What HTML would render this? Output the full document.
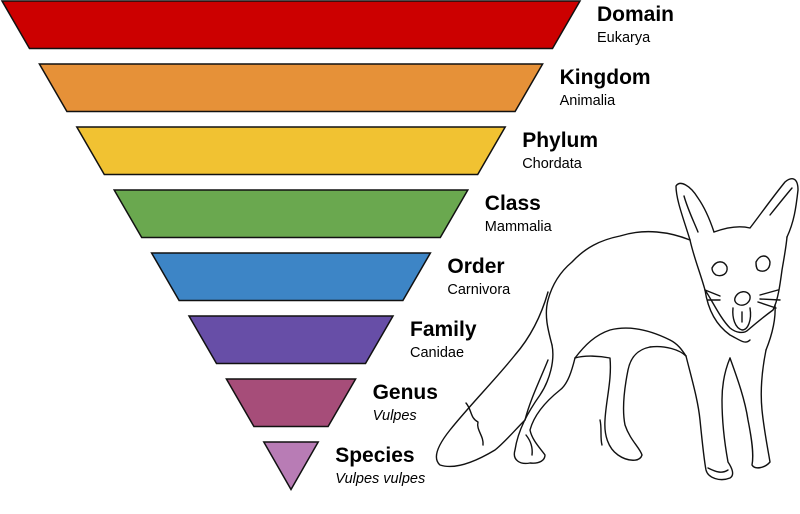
<!DOCTYPE html>
<html><head><meta charset="utf-8"><style>
html,body{margin:0;padding:0;background:#fff;}
svg{display:block;}
text{font-family:"Liberation Sans",Arial,sans-serif;fill:#000;}
.t{font-weight:bold;font-size:21px;}
.s{font-size:14.5px;}
.i{font-size:14.5px;font-style:italic;}
.fox path{fill:none;stroke:#111;stroke-width:1.4;stroke-linecap:round;stroke-linejoin:round;}
</style></head><body>
<svg id="c" width="800" height="514" viewBox="0 0 800 514">
<g id="bands"></g>
<g id="labels"></g>
<g class="fox">
<path d="M690,240 C670,232 645,228 620,236 C600,240 585,248 572,262 C560,272 552,285 548,300 C544,315 548,330 552,345"/>
<path d="M548,292 C540,320 528,340 515,355 C495,380 470,405 450,430 C438,445 432,458 440,465 C455,470 475,462 495,450 C505,442 515,430 525,420"/>
<path d="M466,403 C472,410 470,418 478,422 C476,430 484,436 483,445"/>
<path d="M525,420 C530,400 540,380 548,360"/>
<path d="M552,345 C555,360 550,380 540,395 C528,412 518,430 515,450 C512,460 520,465 530,463 C540,464 545,460 545,455 C540,448 532,440 530,430 C534,415 545,402 560,390 C568,384 572,370 575,358"/>
<path d="M575,358 C585,355 600,356 610,358 C612,380 606,400 605,420 C604,435 608,448 618,455 C628,462 640,462 642,455 C640,448 630,440 625,425 C622,410 624,390 628,370 C630,360 635,350 650,347"/>
<path d="M526,435 C530,440 533,447 532,455"/>
<path d="M600,420 C602,428 600,438 602,445"/>
<path d="M575,358 C585,345 595,335 610,330 C630,325 650,330 670,340 C678,344 682,350 686,356"/>
<path d="M686,356 C692,380 698,400 700,420 C702,440 704,460 706,470 C708,478 720,482 730,478 C735,475 732,468 728,462 C724,440 722,420 722,400 C722,385 725,370 730,358"/>
<path d="M730,358 C738,380 745,400 748,420 C752,440 754,455 752,465 C755,470 765,468 770,462 C768,450 764,430 762,410 C760,390 762,370 766,350"/>
<path d="M708,468 C716,472 722,474 728,470"/>
<path d="M650,347 C665,345 680,350 686,356"/>
<path d="M705,290 C708,310 716,325 730,335 C740,340 745,345 750,340"/>
<path d="M766,350 C772,335 776,320 775,305"/>
<path d="M690,240 C694,258 700,272 705,290"/>
<path d="M705,290 C712,300 720,318 730,328 C736,333 744,334 748,330 C755,324 762,318 773,310 C778,300 780,285 782,270 C784,258 786,248 787,237"/>
<path d="M690,240 C684,220 676,200 676,186 C680,180 690,185 698,198 C705,208 710,220 714,232"/>
<path d="M684,196 C688,210 694,222 698,232"/>
<path d="M714,232 C725,228 738,225 750,228 C760,215 772,198 785,182 C792,176 798,178 798,190 C796,208 794,222 787,237"/>
<path d="M770,215 C778,205 786,195 792,188"/>
<path d="M712,268 C716,260 724,260 727,267 C728,274 722,277 716,275 C713,273 712,270 712,268"/>
<path d="M756,262 C760,254 768,254 770,262 C770,270 764,273 758,270 C756,268 756,265 756,262"/>
<path d="M735,298 C738,290 748,290 750,296 C751,302 745,306 740,305 C736,304 734,301 735,298"/>
<path d="M733,308 C732,318 735,328 742,330 C748,330 752,320 750,308"/>
<path d="M742,312 L742,322"/>
<path d="M720,296 L705,290 M720,300 L708,300 M760,295 L778,290 M760,299 L780,300 M758,302 L776,308"/>
</g>
</svg>
<script>
const ranks = ["Domain","Kingdom","Phylum","Class","Order","Family","Genus","Species"];
const names = ["Eukarya","Animalia","Chordata","Mammalia","Carnivora","Canidae","Vulpes","Vulpes vulpes"];
const colors = ["#cc0000","#e69138","#f1c232","#6aa84f","#3d85c6","#674ea7","#a64d79","#b87cb5"];
const italicFlags = [0,0,0,0,0,0,1,1];
const NS = "http://www.w3.org/2000/svg";
const bands = document.getElementById("bands");
const labels = document.getElementById("labels");
const step = 37.4, pitch = 63.0, h = 47.5, cx = 291, halfTop = 289, slant = 27.5;
ranks.forEach((r,i)=>{
  const y0 = 1 + pitch*i, y1 = y0 + h;
  const ht = halfTop - step*i, hb = Math.max(ht - slant, 0);
  const p = document.createElementNS(NS,"polygon");
  p.setAttribute("points", `${cx-ht},${y0} ${cx+ht},${y0} ${cx+hb},${y1} ${cx-hb},${y1}`);
  p.setAttribute("fill", colors[i]);
  p.setAttribute("stroke", "#111");
  p.setAttribute("stroke-width", "1.5");
  
  
  bands.appendChild(p);
  const lx = cx + ht + 17;
  const t = document.createElementNS(NS,"text");
  t.setAttribute("x", lx); t.setAttribute("y", y0 + 20);
  t.setAttribute("class","t"); t.textContent = r;
  
  
  labels.appendChild(t);
  const s = document.createElementNS(NS,"text");
  s.setAttribute("x", lx); s.setAttribute("y", y0 + 41);
  s.setAttribute("class", italicFlags[i] ? "i" : "s"); s.textContent = names[i];
  
  
  labels.appendChild(s);
});
</script>
</body></html>
